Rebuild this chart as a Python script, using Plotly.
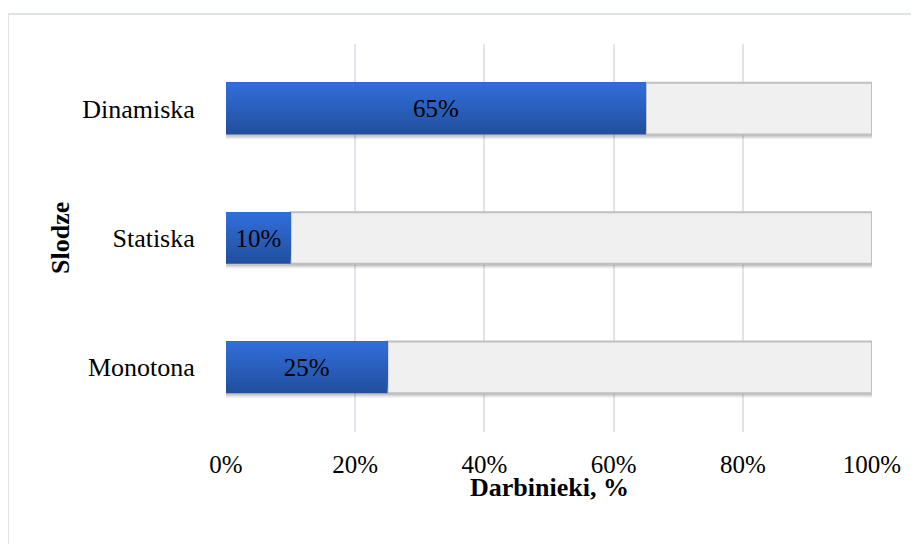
import plotly.graph_objects as go

categories = ["Monotona", "Statiska", "Dinamiska"]
values = [25, 10, 65]
labels = ["25%", "10%", "65%"]
tick_vals = [0, 20, 40, 60, 80, 100]
tick_text = ["0%", "20%", "40%", "60%", "80%", "100%"]

FONT = "Liberation Serif, Times New Roman, serif"
BAR_W = 0.4
N_SLICES = 14
dark = (0x22, 0x50, 0x9e)
light = (0x31, 0x6d, 0xd9)

fig = go.Figure()

# soft shadow under bars
for k, a in enumerate([0.06, 0.08, 0.10]):
    fig.add_trace(go.Bar(
        y=categories, x=[100.4 - k * 0.15] * len(categories), base=[0] * len(categories),
        orientation="h", width=BAR_W, offset=-BAR_W / 2 - 0.036 + k * 0.01,
        marker=dict(color="rgba(0,0,0,%.2f)" % a, line=dict(width=0)),
        hoverinfo="skip", showlegend=False))

# grey remainder
fig.add_trace(go.Bar(
    y=categories, x=[100 - v for v in values], base=values,
    orientation="h", width=BAR_W, offset=-BAR_W / 2,
    marker=dict(color="#f0f0f0", line=dict(color="#bfbfbf", width=2)),
    hoverinfo="skip", showlegend=False))

# blue gradient (overlapping layers, dark at bottom, light at top)
sw = BAR_W / N_SLICES
for i in range(N_SLICES):
    t = i / (N_SLICES - 1)
    c = tuple(round(dark[k] + (light[k] - dark[k]) * t) for k in range(3))
    fig.add_trace(go.Bar(
        y=categories, x=values, base=[0] * len(values),
        orientation="h", width=BAR_W - i * sw, offset=-BAR_W / 2 + i * sw,
        marker=dict(color="rgb(%d,%d,%d)" % c, line=dict(width=0)),
        hoverinfo="skip", showlegend=False))

# labels
fig.add_trace(go.Bar(
    y=categories, x=values, base=[0] * len(values),
    orientation="h", width=BAR_W, offset=-BAR_W / 2,
    marker=dict(color="rgba(0,0,0,0)", line=dict(width=0)),
    text=labels, textposition="inside", insidetextanchor="middle",
    textfont=dict(family=FONT, size=25, color="black"),
    textangle=0, hoverinfo="skip", showlegend=False))

fig.update_layout(
    width=911, height=536,
    margin=dict(l=218, r=47, t=36, b=112),
    barmode="overlay",
    paper_bgcolor="white", plot_bgcolor="white",
    font=dict(family=FONT, color="black"),
    xaxis=dict(range=[0, 100], tickvals=tick_vals, ticktext=tick_text,
               showgrid=True, gridcolor="#e1e4ea", gridwidth=2,
               zeroline=False, showline=False,
               ticks="outside", ticklen=10, tickcolor="rgba(0,0,0,0)",
               tickfont=dict(family=FONT, size=25, color="black")),
    yaxis=dict(categoryorder="array", categoryarray=categories,
               range=[-0.5, 2.5], showgrid=False, zeroline=False, showline=False,
               ticks="outside", ticklen=25, tickcolor="rgba(0,0,0,0)",
               tickfont=dict(family=FONT, size=26, color="black")),
    shapes=[dict(type="rect", xref="paper", yref="paper",
                 x0=-218 / 646, x1=692 / 646, y0=-0.35, y1=418 / 388,
                 line=dict(color="#dfe3e8", width=2), fillcolor="rgba(0,0,0,0)",
                 layer="below")],
    annotations=[
        dict(text="<b>Darbinieki, %</b>", xref="paper", yref="paper",
             x=0.5, y=-55 / 388, xanchor="center", yanchor="middle",
             showarrow=False, font=dict(family=FONT, size=26, color="black")),
        dict(text="<b>Slodze</b>", xref="paper", yref="paper",
             x=-166 / 646, y=0.5, xanchor="center", yanchor="middle",
             textangle=-90, showarrow=False,
             font=dict(family=FONT, size=26, color="black")),
    ],
)

fig.write_html("out.html")
